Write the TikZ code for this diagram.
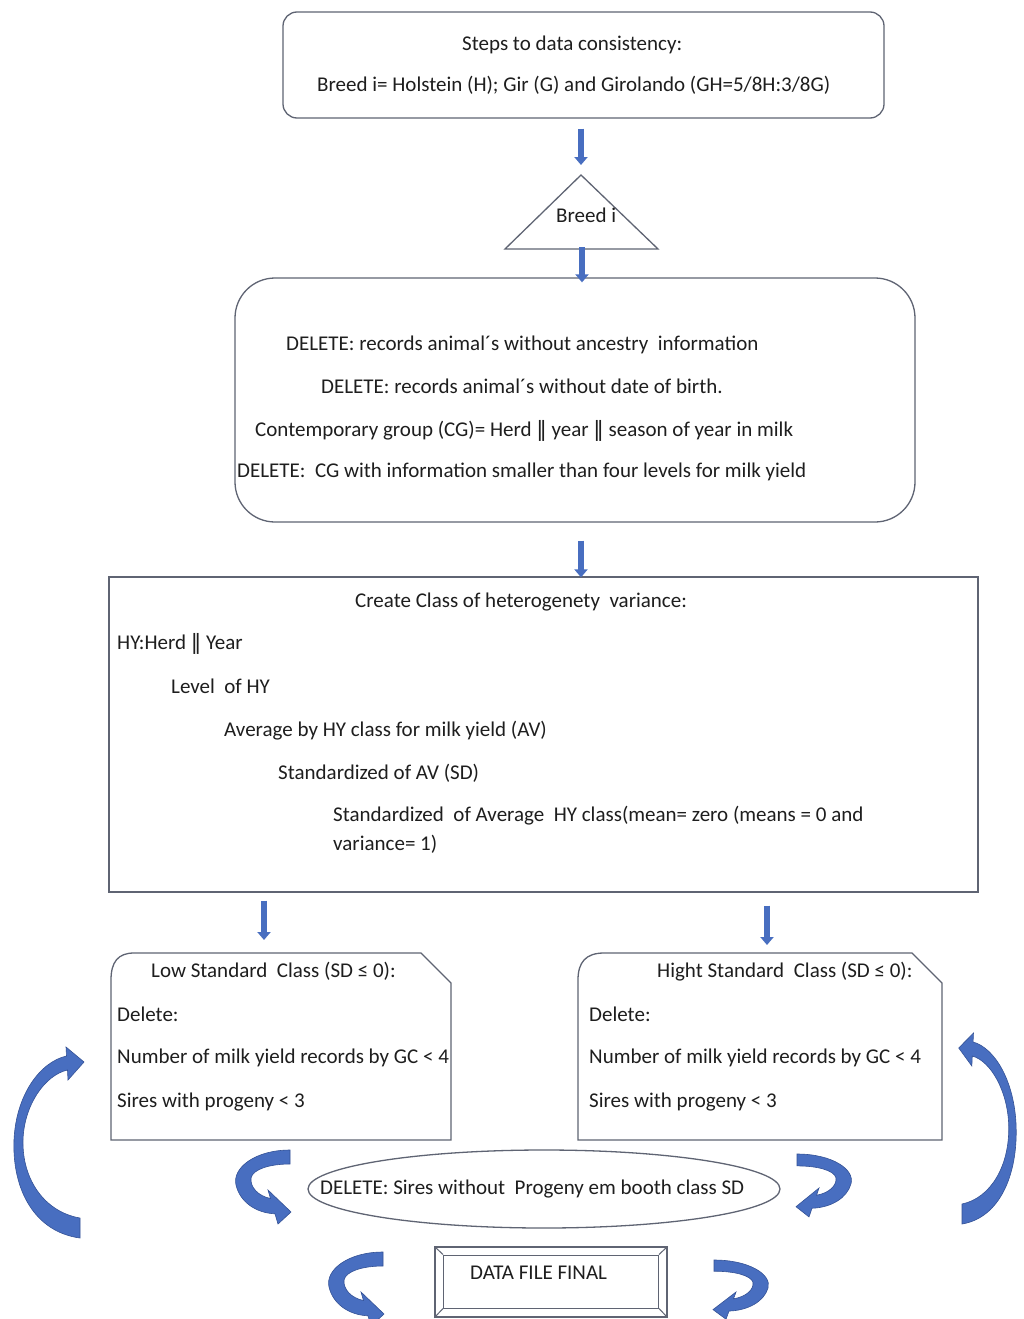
\documentclass[tikz,border=0pt]{standalone}
\usepackage{fontspec}
\setmainfont{Carlito}
\newfontfamily\djv{DejaVu Sans}
\usetikzlibrary{arrows.meta,shapes.geometric}
\definecolor{arrblue}{RGB}{72,110,192}
\definecolor{arrdark}{RGB}{52,82,150}
\definecolor{boxline}{RGB}{95,100,115}
\definecolor{ink}{RGB}{30,30,30}
\newcommand\smallC[1]{\fill[curvearrow,#1] (0,0) .. controls (-35,0) and (-58,18) .. (-54,35) .. controls (-50,52) and (-34,63) .. (-15,63.8) -- (-12,74) -- (1,62) -- (-22,40) -- (-19.5,48.5) .. controls (-32,46) and (-40,37) .. (-39,28) .. controls (-37,19) and (-20,14) .. (0,14) -- cycle;}
\newcommand\bigC[1]{\fill[curvearrow,#1] (80,1238) .. controls (35,1232) and (12,1190) .. (14,1140) .. controls (16,1095) and (40,1062) .. (66.5,1056) -- (66,1047) -- (84,1062) -- (68,1080) -- (67.5,1070) .. controls (45,1075) and (24,1105) .. (23,1140) .. controls (22,1180) and (45,1212) .. (80,1218) -- cycle;}
\begin{document}
\begin{tikzpicture}[x=1pt,y=-1pt,font=\fontsize{21}{25}\selectfont]
\tikzset{
  frame/.style={draw=boxline, line width=1.3pt},
  txt/.style={anchor=base west, inner sep=0pt, text=ink},
  flow/.style={draw=arrblue, line width=5.5pt, -{Triangle[width=13pt,length=8pt,fill=arrblue]}},
  curvearrow/.style={fill=arrblue, draw=arrdark, line width=0.6pt},
}
\useasboundingbox[fill=white] (0,0) rectangle (1024,1319);

% top box
\node[frame, rounded corners=14pt, minimum width=601pt, minimum height=106pt] (top) at (583.5,65) {};
\node[txt] (t1) at (462,51) {Steps to data consistency:};
\node[txt] (t2) at (317,92) {Breed i= Holstein (H); Gir (G) and Girolando (GH=5/8H:3/8G)};

% triangle
\coordinate (triTop) at (581,175);
\coordinate (triBot) at (582,249);
\draw[frame] (triTop) -- (658,249) -- (505,249) -- cycle;
\node[txt] (breed) at (556,222) {Breed i};

% middle rounded box
\node[frame, rounded corners=40pt, minimum width=680pt, minimum height=244pt] (mid) at (575,400) {};
\node[txt] (m1) at (286,350) {DELETE: records animal´s without ancestry\ \ information};
\node[txt] (m2) at (321,393) {DELETE: records animal´s without date of birth.};
\node[txt] (m3) at (255,436) {Contemporary group (CG)= Herd {\djv ‖} year {\djv ‖} season of year in milk};
\node[txt] (m4) at (237,477) {DELETE:\ \ CG with information smaller than four levels for milk yield};

% big box
\node[frame, minimum width=869pt, minimum height=315pt] (big) at (543.5,734.5) {};
\node[txt] (b1) at (355,607) {Create Class of heterogenety\ \ variance:};
\node[txt] (b2) at (117,649) {HY:Herd {\djv ‖} Year};
\node[txt] (b3) at (171,693) {Level\ \ of HY};
\node[txt] (b4) at (224,736) {Average by HY class for milk yield (AV)};
\node[txt] (b5) at (278,779) {Standardized of AV (SD)};
\node[txt] (b6) at (333,821) {Standardized\ \ of Average\ \ HY class(mean= zero (means = 0 and};
\node[txt] (b7) at (333,850) {variance= 1)};

% left and right class boxes
\draw[frame] (111,1140) -- (111,980) .. controls (111,962) and (118,953) .. (134,953) -- (421,953) -- (451,983) -- (451,1140) -- cycle;
\node[txt] (l1) at (151,977) {Low Standard\ \ Class (SD ≤ 0):};
\node[txt] (l2) at (117,1021) {Delete:};
\node[txt] (l3) at (117,1063) {Number of milk yield records by GC < 4};
\node[txt] (l4) at (117,1107) {Sires with progeny < 3};

\draw[frame] (578,1140) -- (578,980) .. controls (578,962) and (586,953) .. (604,953) -- (912,953) -- (942,983) -- (942,1140) -- cycle;
\node[txt] (r1) at (657,977) {Hight Standard\ \ Class (SD ≤ 0):};
\node[txt] (r2) at (589,1021) {Delete:};
\node[txt] (r3) at (589,1063) {Number of milk yield records by GC < 4};
\node[txt] (r4) at (589,1107) {Sires with progeny < 3};

% ellipse
\node[frame, ellipse, minimum width=472pt, minimum height=78pt] (ell) at (544,1189) {};
\node[txt] (e1) at (320,1194) {DELETE: Sires without\ \ Progeny em booth class SD};

% bevel box
\node[frame, minimum width=232pt, minimum height=70pt] (fin) at (551,1282) {};
\node[draw=boxline, line width=1pt, minimum width=215pt, minimum height=53pt] (finin) at (551,1281.5) {};
\draw[boxline, line width=1pt] (fin.north west) -- (finin.north west) (fin.north east) -- (finin.north east) (fin.south west) -- (finin.south west) (fin.south east) -- (finin.south east);
\node[txt] (f1) at (470,1279) {DATA FILE FINAL};

% straight connectors
\coordinate (cL) at (264,0);
\coordinate (cR) at (767,0);
\coordinate (lTop) at (264,953);
\coordinate (rTop) at (767,953);
\draw[flow, shorten <=10pt, shorten >=10pt] (top.south -| triTop) -- (triTop);
\draw[flow, shorten <=-2pt, shorten >=-5pt] (triBot) -- (mid.north -| triBot);
\draw[flow, shorten <=18pt, shorten >=-1pt] (mid.south -| triTop) -- (big.north -| triTop);
\draw[flow, shorten <=8pt, shorten >=13pt] (big.south -| cL) -- (lTop);
\draw[flow, shorten <=13pt, shorten >=8pt] (big.south -| cR) -- (rTop);

% curved arrows
\bigC{}
\bigC{shift={(1027.6,-14)}, xscale=-0.82}
\smallC{shift={(290,1150)}}
\smallC{shift={(383,1252)}}
\smallC{shift={(797,1154)}, xscale=-1, yscale=0.85}
\smallC{shift={(714,1260)}, xscale=-1, yscale=0.8}
\end{tikzpicture}
\end{document}
